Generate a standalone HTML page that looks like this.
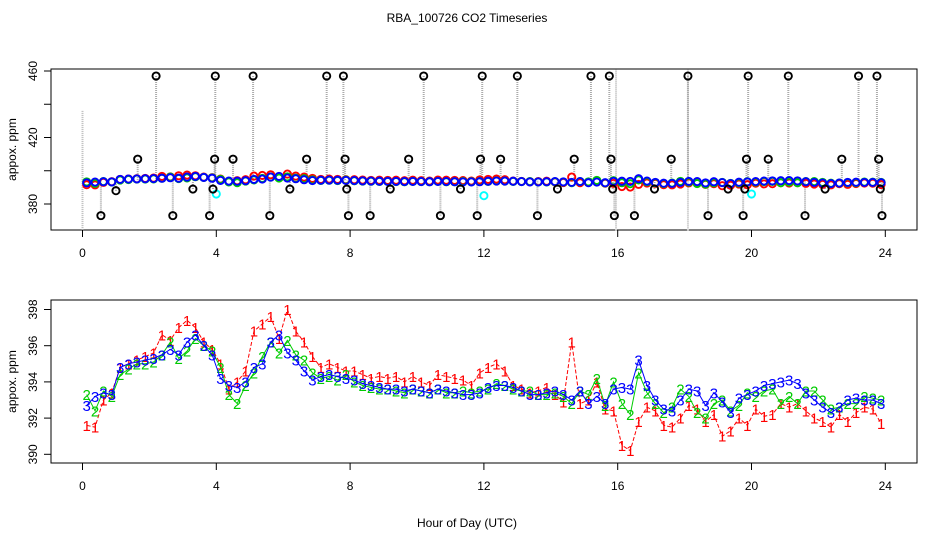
<!DOCTYPE html>
<html><head><meta charset="utf-8"><style>
body{margin:0;background:#fff}
svg{display:block;font-family:"Liberation Sans",sans-serif}
</style></head><body>
<svg id="chart" width="936" height="540" viewBox="0 0 936 540">
<text x="467" y="22" text-anchor="middle" font-size="12">RBA_100726  CO2 Timeseries</text>
<text x="467" y="527" text-anchor="middle" font-size="12">Hour of Day (UTC)</text>
<g id="top"></g>
<g id="bot"></g>
</svg>
<script>
const times=[];for(let i=0;i<96;i++)times.push(0.125+i*0.25);
const s1=[391.6,391.5,393.0,393.4,394.8,395.0,395.2,395.4,395.6,396.6,396.3,397.0,397.4,397.0,396.2,395.8,395.0,393.6,394.0,394.6,396.8,397.2,397.6,396.4,398.0,396.8,396.2,395.4,394.8,395.0,394.8,394.6,394.6,394.4,394.2,394.3,394.2,394.3,394.0,394.3,394.0,393.8,394.4,394.3,394.2,394.1,393.8,394.5,394.8,395.0,394.6,393.8,393.6,393.4,393.5,393.7,393.3,392.9,396.2,392.8,393.0,394.0,392.5,392.4,390.5,390.2,391.8,392.6,392.4,391.6,391.5,392.0,392.7,392.5,391.8,392.2,391.0,391.3,392.0,391.6,392.5,392.1,392.2,392.8,392.6,392.8,392.4,392.0,391.8,391.5,392.2,391.8,392.3,392.6,392.5,391.7];
const s2=[393.3,392.4,393.5,393.2,394.4,394.7,395.0,395.0,395.1,395.5,396.2,395.3,395.7,396.4,396.0,395.7,394.8,393.3,392.8,393.8,394.5,395.4,396.2,395.6,396.3,395.5,395.2,394.5,394.2,394.3,394.1,394.4,394.0,393.8,393.7,393.6,393.6,393.5,393.4,393.6,393.5,393.4,393.6,393.4,393.4,393.5,393.4,393.5,393.6,393.9,393.8,393.6,393.5,393.5,393.3,393.3,393.4,393.2,392.8,393.5,393.3,394.2,392.7,394.0,392.8,392.2,394.5,393.4,392.8,392.3,392.6,393.6,393.2,392.3,392.0,392.8,393.0,392.4,392.7,393.4,393.2,393.5,393.6,392.8,393.2,392.8,393.5,393.5,393.0,392.5,392.6,392.8,392.8,393.2,393.1,393.0];
const s3=[392.7,393.2,393.4,393.3,394.8,395.0,395.1,395.2,395.3,395.5,395.8,395.5,396.2,396.6,396.0,395.5,394.2,393.8,393.7,394.0,394.8,395.0,396.2,396.6,395.6,395.2,394.6,394.1,394.3,394.4,394.3,394.2,394.1,393.9,393.8,393.7,393.6,393.6,393.5,393.6,393.5,393.4,393.6,393.5,393.4,393.3,393.3,393.4,393.7,393.8,393.8,393.7,393.5,393.3,393.3,393.4,393.5,393.3,393.0,393.5,392.8,393.2,392.8,393.6,393.7,393.6,395.2,393.8,393.0,392.5,392.4,393.0,393.6,393.5,392.7,393.4,392.9,392.3,393.1,393.3,393.5,393.8,393.9,394.0,394.1,393.9,393.4,393.0,392.6,392.3,392.6,393.0,393.1,393.0,393.0,392.8];
const outT=[0.55,1.0,1.65,2.2,2.7,3.3,3.8,3.9,3.95,3.97,4.5,5.1,5.6,6.2,6.7,7.3,7.8,7.85,7.9,7.95,8.6,9.2,9.75,10.2,10.7,11.3,11.8,11.9,11.95,12.5,13.0,13.6,14.2,14.7,15.2,15.75,15.8,15.85,15.9,16.5,17.1,17.6,18.1,18.7,19.3,19.75,19.8,19.85,19.9,20.5,21.1,21.6,22.2,22.7,23.2,23.75,23.8,23.85,23.9];
const outV=[373,388,407,457,373,389,373,389,407,457,407,457,373,389,407,457,457,407,389,373,373,389,407,457,373,389,373,407,457,407,457,373,389,407,457,457,407,389,373,373,389,407,457,373,389,373,389,407,457,407,457,373,389,407,457,457,407,389,373];
const cyanT=[4.0,12.0,20.0];
const cyanV=[386,385,386];
const xTicks=[0,4,8,12,16,20,24];
const topTicks=[380,400,420,440,460];
const topLabels=["380","","420","","460"];
const botTicks=[390,392,394,396,398];
const botLabels=["390","392","394","396","398"];

const NS="http://www.w3.org/2000/svg";
const X=t=>82.5+t*(885.3-82.5)/24;
const Yt=v=>71+(460-v)*(204-71)/80;
const Yb=v=>309.5+(398-v)*(454.3-309.5)/8;
function mk(p,tag,a){const e=document.createElementNS(NS,tag);for(const k in a)e.setAttribute(k,a[k]);p.appendChild(e);return e;}

function frame(g,top,bot,ticks,labels,Y,nm){
  const r=mk(g,'rect',{x:51,y:top,width:866,height:bot-top,fill:'none',stroke:'#000'});
  
  
  xTicks.forEach(t=>{
    mk(g,'line',{x1:X(t),x2:X(t),y1:bot,y2:bot+7,stroke:'#000'});
    const tx=mk(g,'text',{x:X(t),y:bot+27,'text-anchor':'middle','font-size':12});
    tx.textContent=t;
    
    
  });
  ticks.forEach((v,i)=>{
    mk(g,'line',{x1:44,x2:51,y1:Y(v),y2:Y(v),stroke:'#000'});
    if(labels[i]){const tx=mk(g,'text',{x:0,y:0,'text-anchor':'middle','font-size':12,transform:`translate(37,${Y(v)}) rotate(-90)`});
    tx.textContent=labels[i];
    
    }
  });
  const yl=mk(g,'text',{x:0,y:0,'text-anchor':'middle','font-size':12,transform:`translate(16,${(top+bot)/2}) rotate(-90)`});
  yl.textContent='appox. ppm';
  
  
}
const gt=document.getElementById('top'),gb=document.getElementById('bot');
frame(gt,69,230,topTicks,topLabels,Yt,'top');
frame(gb,300,463,botTicks,botLabels,Yb,'bottom');

const tall=[[0,436,364],[15.95,461,364],[18.1,461,364]];
tall.forEach(a=>mk(gt,'line',{x1:X(a[0]),x2:X(a[0]),y1:Yt(a[1]),y2:Yt(a[2]),stroke:'#bbb','stroke-width':2,'stroke-dasharray':'1,1'}));
outT.forEach((t,i)=>{
  mk(gt,'line',{x1:X(t),x2:X(t),y1:Yt(outV[i]),y2:Yt(394),stroke:'#aaa','stroke-width':2,'stroke-dasharray':'1,1'});
});
[[s1,'#f00'],[s2,'#0c0'],[s3,'#00f']].forEach(([s,c],k)=>{
  times.forEach((t,i)=>{
    const e=mk(gt,'circle',{cx:X(t),cy:Yt(s[i]),r:3.6,fill:'none',stroke:c,'stroke-width':1.9});
    
    
  });
});
cyanT.forEach((t,i)=>{
  const e=mk(gt,'circle',{cx:X(t),cy:Yt(cyanV[i]),r:3.6,fill:'none',stroke:'#0ff','stroke-width':1.9});
  
  
});
outT.forEach((t,i)=>{
  const e=mk(gt,'circle',{cx:X(t),cy:Yt(outV[i]),r:3.6,fill:'none',stroke:'#000','stroke-width':1.9});
  
  
});

[[s1,'#f00','1'],[s2,'#0c0','2'],[s3,'#00f','3']].forEach(([s,c,ch])=>{
  const pl=mk(gb,'polyline',{points:times.map((t,i)=>X(t)+','+Yb(s[i])).join(' '),fill:'none',stroke:c,'stroke-width':1,'stroke-dasharray':ch==='1'?'4,2':'none'});
  
  
  times.forEach((t,i)=>{
    const e=mk(gb,'text',{x:X(t),y:Yb(s[i])+5.5,'text-anchor':'middle','font-size':15,fill:c});
    e.textContent=ch;
    
    
  });
});
</script>
</body></html>
